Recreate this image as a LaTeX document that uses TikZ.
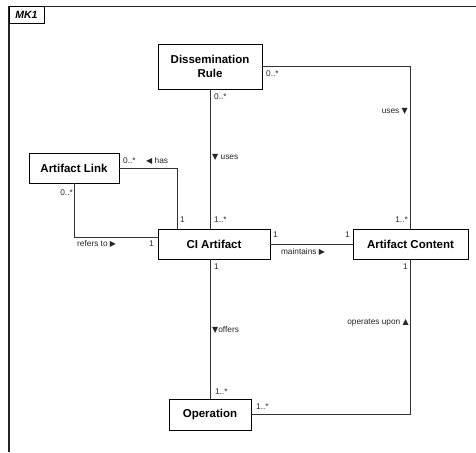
\documentclass[tikz,border=0pt]{standalone}
\usepackage{fontspec}
\setmainfont{Liberation Sans}
\newfontfamily\symf{DejaVu Sans}
\usetikzlibrary{shadows}
\newcommand{\tsym}[1]{{\symf\fontsize{8}{9}\selectfont #1}}
\begin{document}
\begin{tikzpicture}[x=1pt,y=-1pt,
  cls/.style={draw=black, line width=0.8pt, fill=white,
    drop shadow={shadow xshift=1.2pt, shadow yshift=-1.2pt, fill=black!55, opacity=1},
    font=\fontsize{11.5}{13.5}\selectfont\bfseries, align=center, inner sep=0pt},
  conn/.style={draw=black!80, line width=0.8pt},
  lbl/.style={font=\fontsize{8.3}{10}\selectfont, inner sep=0pt, text=black!85}]
\useasboundingbox (0,0) rectangle (476,452);
% frame
\draw[line width=1.3pt, black!85] (9,452) -- (9,6.5) -- (476,6.5);
\node[draw=black, line width=0.9pt, fill=white, minimum width=35pt, minimum height=16.5pt,
  inner sep=0pt, font=\fontsize{10.5}{12}\selectfont\bfseries\itshape,
  drop shadow={shadow xshift=1.2pt, shadow yshift=-1.2pt, fill=black!55, opacity=1}]
  (mk) at (26.5,15) {MK1};
% classes
\node[cls, minimum width=104pt, minimum height=45pt] (dr) at (210,66.5) {Dissemination\\Rule};
\node[cls, minimum width=90pt, minimum height=30pt] (al) at (74,168) {Artifact Link};
\node[cls, minimum width=112pt, minimum height=30pt] (ci) at (214,244) {CI Artifact};
\node[cls, minimum width=115pt, minimum height=30pt] (ac) at (410.5,244) {Artifact Content};
\node[cls, minimum width=82pt, minimum height=31pt] (op) at (210,414.5) {Operation};
% helper coordinates
\coordinate (alL) at (74,237);
\coordinate (ciL) at (ci.west |- alL);
\coordinate (ciT1) at (177,229);
% connectors
\draw[conn] (dr.south) -- (dr.south |- ci.north);
\draw[conn] (dr.east) -| (ac.north);
\draw[conn] (al.east) -| (ciT1);
\draw[conn] (al.south -| alL) |- (ciL);
\draw[conn] (ci.east) -- (ac.west);
\draw[conn] (op.north) -- (op.north |- ci.south);
\draw[conn] (ac.south) |- (op.east);
% multiplicities
\node[lbl, anchor=west] (m1) at (266,74) {0..*};
\node[lbl, anchor=west] (m2) at (214,97) {0..*};
\node[lbl, anchor=west] (m3) at (123,161) {0..*};
\node[lbl, anchor=east] (m4) at (73,193) {0..*};
\node[lbl, anchor=west] (m5) at (180,220) {1};
\node[lbl, anchor=west] (m6) at (214,220) {1..*};
\node[lbl, anchor=west] (m7) at (149,244) {1};
\node[lbl, anchor=west] (m8) at (273,235) {1};
\node[lbl, anchor=east] (m9) at (350,235) {1};
\node[lbl, anchor=east] (m10) at (408,220) {1..*};
\node[lbl, anchor=east] (m11) at (408,267) {1};
\node[lbl, anchor=west] (m12) at (214,267) {1};
\node[lbl, anchor=west] (m13) at (215,392) {1..*};
\node[lbl, anchor=west] (m14) at (256,407) {1..*};
% role labels
\node[lbl, anchor=east] (r1) at (408,111) {uses \tsym{▼}};
\node[lbl, anchor=west] (r2) at (212,157) {\tsym{▼} uses};
\node[lbl, anchor=west] (r3) at (146,161) {\tsym{◀} has};
\node[lbl, anchor=west] (r4) at (77,244) {refers to \tsym{▶}};
\node[lbl] (r5) at (303,252) {maintains \tsym{▶}};
\node[lbl, anchor=west] (r6) at (212,330) {\tsym{▼}offers};
\node[lbl, anchor=east] (r7) at (409,323) {operates upon \tsym{▲}};
\end{tikzpicture}
\end{document}
